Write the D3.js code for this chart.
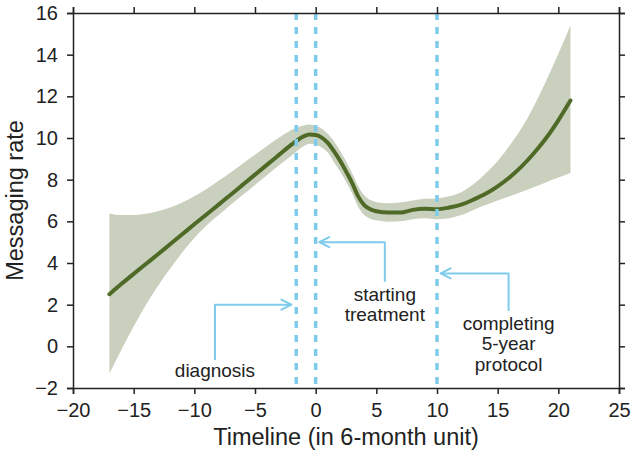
<!DOCTYPE html>
<html>
<head>
<meta charset="utf-8">
<script src="https://cdn.jsdelivr.net/npm/d3@7"></script>
<style>
  html, body { margin: 0; padding: 0; background: #fff; }
  svg { display: block; font-family: "Liberation Sans", Arial, sans-serif; }
</style>
</head>
<body>
<svg id="chart" width="633" height="456"></svg>
<script>
// ---- data ----
const timeline = [-17,-16,-15,-14,-13,-12,-11,-10,-9,-8,-7,-6,-5,-4,-3,-2,-1,-0.5,0,0.5,1,1.5,2,2.5,3,3.5,4,4.5,5,6,7,8,9,10,11,12,13,14,15,16,17,18,19,20,21];
const meanRate = [2.5,3.0,3.48,3.95,4.42,4.9,5.38,5.86,6.33,6.8,7.28,7.76,8.24,8.72,9.2,9.68,10.08,10.17,10.14,10.02,9.77,9.37,8.92,8.4,7.85,7.2,6.78,6.58,6.48,6.42,6.42,6.55,6.6,6.58,6.66,6.8,7.04,7.32,7.68,8.12,8.65,9.28,10.0,10.85,11.8];
const upperRate = [6.38,6.3,6.3,6.36,6.48,6.66,6.9,7.2,7.55,7.95,8.35,8.78,9.2,9.62,10.02,10.38,10.6,10.65,10.58,10.45,10.2,9.85,9.4,8.88,8.32,7.7,7.25,7.02,6.92,6.87,6.9,7.0,7.08,7.1,7.2,7.4,7.78,8.3,8.9,9.65,10.5,11.55,12.75,14.05,15.4];
const lowerRate = [-1.3,-0.15,0.95,1.98,2.9,3.72,4.5,5.2,5.8,6.3,6.8,7.28,7.75,8.22,8.7,9.15,9.6,9.72,9.68,9.55,9.3,8.85,8.4,7.9,7.35,6.7,6.3,6.12,6.05,5.98,6.0,6.1,6.15,6.1,6.15,6.3,6.55,6.78,7.0,7.2,7.42,7.65,7.88,8.1,8.32];

const xTicks = [-20,-15,-10,-5,0,5,10,15,20,25];
const yTicks = [-2,0,2,4,6,8,10,12,14,16];

// events (vertical dashed lines)
const eventX = [-1.6, 0, 10];
// annotations: label lines, arrow tip (x,y), elbow x, stem bottom y, label anchor y
const annLabels = [["diagnosis"], ["starting","treatment"], ["completing","5-year","protocol"]];
const annTipX = [-2.0, 0.3, 10.3];
const annTipY = [2.0, 5.0, 3.5];
const annElbowX = [-8.3, 5.7, 15.9];
const annStemBottomY = [-0.65, 3.1, 1.7];
const annTextY = [-1.48, 2.19, 0.79];

// ---- layout ----
const W = 633, H = 456;
const margin = {left: 73, top: 13, right: 14, bottom: 68};
const svg = d3.select("#chart");
const x = d3.scaleLinear().domain([-20, 25]).range([margin.left, W - margin.right]);
const y = d3.scaleLinear().domain([-2, 16]).range([H - margin.bottom, margin.top]);

const pts = timeline.map((t, i) => ({t, m: meanRate[i], lo: lowerRate[i], hi: upperRate[i]}));

// band
svg.append("path")
  .datum(pts)
  .attr("fill", "#c9d0be")
  .attr("d", d3.area().curve(d3.curveMonotoneX)
    .x(d => x(d.t)).y0(d => y(d.lo)).y1(d => y(d.hi)));

// mean line
svg.append("path")
  .datum(pts)
  .attr("fill", "none")
  .attr("stroke", "#4f6a27")
  .attr("stroke-width", 4)
  .attr("stroke-linecap", "round")
  .attr("d", d3.line().curve(d3.curveMonotoneX).x(d => x(d.t)).y(d => y(d.m)));

// dashed event lines
const blue = "#7ecbec";
svg.selectAll(".ev").data(eventX).enter().append("line")
  .attr("x1", d => x(d)).attr("x2", d => x(d))
  .attr("y1", y(16)).attr("y2", y(-2))
  .attr("stroke", blue).attr("stroke-width", 3.5)
  .attr("stroke-dasharray", "7,7");

// annotations
annLabels.forEach((lines, i) => {
  const g = svg.append("g");
  const ex = x(annElbowX[i]), tx = x(annTipX[i]), ty = y(annTipY[i]);
  const dir = tx > ex ? 1 : -1;
  g.append("path")
    .attr("fill", "none").attr("stroke", blue).attr("stroke-width", 2)
    .attr("stroke-linejoin", "round")
    .attr("d", `M${ex},${y(annStemBottomY[i])}L${ex},${ty}L${tx},${ty}`);
  g.append("path")
    .attr("fill", "none").attr("stroke", blue).attr("stroke-width", 2)
    .attr("stroke-linecap", "round").attr("stroke-linejoin", "round")
    .attr("d", `M${tx - dir*10},${ty - 5}L${tx},${ty}L${tx - dir*10},${ty + 5}`);
  const t = g.append("text")
    .attr("x", ex).attr("y", y(annTextY[i]))
    .attr("text-anchor", "middle")
    .attr("font-size", 19).attr("fill", "#222");
  lines.forEach((s, k) => {
    t.append("tspan").attr("x", ex).attr("dy", k === 0 ? 0 : 20.5).text(s);
  });
});

// frame and axes
const axisColor = "#222";
const gx = svg.append("g").attr("transform", `translate(0,${y(-2)})`)
  .call(d3.axisBottom(x).tickValues(xTicks).tickSize(6).tickPadding(9));
const gy = svg.append("g").attr("transform", `translate(${x(-20)},0)`)
  .call(d3.axisLeft(y).tickValues(yTicks).tickSize(6).tickPadding(9));
const gt = svg.append("g").attr("transform", `translate(0,${y(16)})`)
  .call(d3.axisTop(x).tickValues(xTicks).tickSize(6).tickFormat(""));
const gr = svg.append("g").attr("transform", `translate(${x(25)},0)`)
  .call(d3.axisRight(y).tickValues(yTicks).tickSize(6).tickFormat(""));
[gx, gy, gt, gr].forEach(g => {
  g.select(".domain").attr("stroke", axisColor).attr("stroke-width", 1.5);
  g.selectAll(".tick line").attr("stroke", axisColor).attr("stroke-width", 1.5);
  g.selectAll(".tick text").attr("fill", "#222").attr("font-size", 20)
    .attr("font-family", "Liberation Sans, Arial, sans-serif");
});

// axis titles
svg.append("text")
  .attr("x", (x(-20) + x(25)) / 2).attr("y", 445)
  .attr("text-anchor", "middle").attr("font-size", 23.5).attr("fill", "#222")
  .text("Timeline (in 6-month unit)");
svg.append("text")
  .attr("transform", `translate(23,${(y(-2) + y(16)) / 2}) rotate(-90)`)
  .attr("text-anchor", "middle").attr("font-size", 23.5).attr("fill", "#222")
  .text("Messaging rate");
</script>
</body>
</html>
